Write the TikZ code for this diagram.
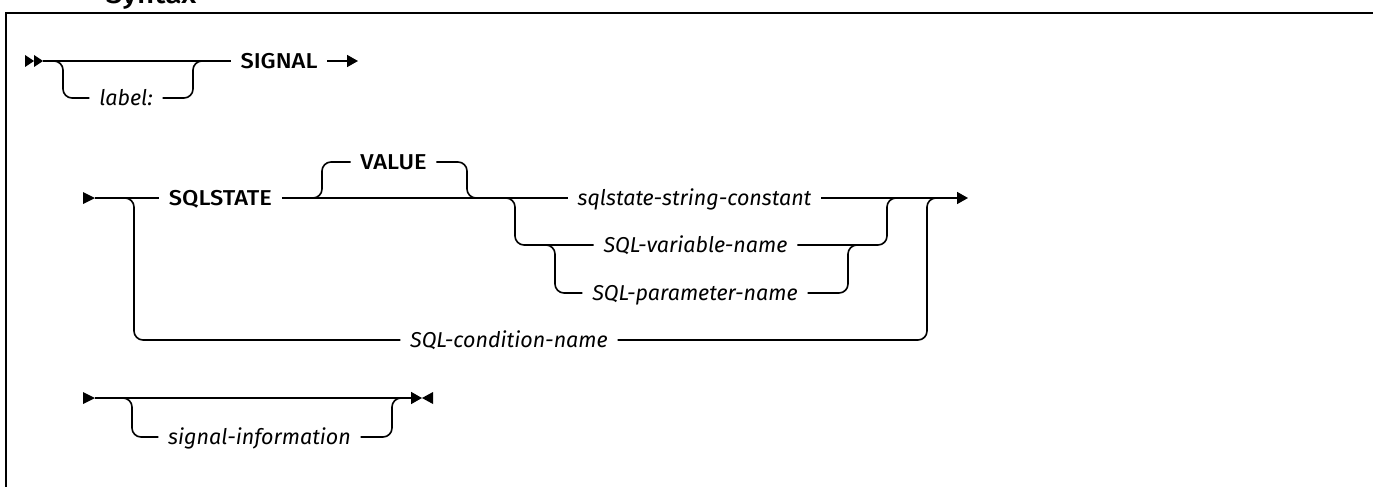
\documentclass[tikz,border=0pt]{standalone}
\usepackage{fontspec}
\setmainfont{Fira Sans}[BoldFont={Fira Sans Medium},BoldFeatures={FakeStretch=1.1}]
\usetikzlibrary{arrows.meta}
\begin{document}
\begin{tikzpicture}[x=1pt,y=-1pt,line width=1.6pt,
  txt/.style={text height=14pt,text depth=0pt,inner ysep=0pt,inner xsep=9pt,anchor=center},
  kw/.style={txt,font=\fontsize{21.5}{25}\selectfont\bfseries},
  var/.style={txt,font=\fontsize{21.5}{25}\selectfont\itshape},
  rail/.style={rounded corners=9pt},
  tip/.style={-{Triangle[length=11pt,width=12pt]}},
  flag/.style={fill=black,draw=none}]
\useasboundingbox (0,0) rectangle (1373,487);
% frame and title
\draw[line width=2pt] (6,500) -- (6,13) -- (1390,13);
\node[anchor=base west,inner sep=0pt,font=\fontsize{27}{30}\selectfont\bfseries] (ttl) at (105,4) {Syntax};
% ---------- row 1 ----------
\fill[flag] (25,55) -- (34,61) -- (25,67) -- cycle;
\fill[flag] (34,55) -- (43,61) -- (34,67) -- cycle;
\coordinate (s1) at (43,61);
\coordinate (e1) at (358,61);
\node[var] (lbl) at (126,98) {label:};
\node[kw] (sig) at (279,61) {SIGNAL};
\draw (s1) -- (sig);
\draw[rail] (53,61) -| (63,98) -- (lbl.west);
\draw[rail] (lbl.east) -| (193,61) -- (202,61);
\draw[tip] (sig.east) -- (e1);
% ---------- row 2 ----------
\fill[flag] (83,192) -- (95,198) -- (83,204) -- cycle;
\coordinate (s2) at (95,198);
\coordinate (e2) at (968,198);
\node[kw] (sqs) at (220.5,198) {SQLSTATE};
\node[kw] (val) at (393.5,162) {VALUE};
\node[var] (ssc) at (694.5,198) {sqlstate-string-constant};
\node[var] (svn) at (695.5,245) {SQL-variable-name};
\node[var] (spn) at (695,293) {SQL-parameter-name};
\node[var] (scn) at (509,340) {SQL-condition-name};
\draw (s2) -- (sqs);
\draw (sqs) -- (ssc);
\draw[tip] (ssc) -- (e2);
\draw[rail] (313,198) -| (322,162) -- (val.west);
\draw[rail] (val.east) -| (467,198) -- (476,198);
\draw[rail] (505,198) -| (515,245) -- (svn.west);
\draw[rail] (svn.east) -| (887,198) -- (896,198);
\draw[rail] (546,245) -| (555,293) -- (spn.west);
\draw[rail] (spn.east) -| (848,245) -- (857,245);
\draw[rail] (124,198) -| (134,340) -- (scn.west);
\draw[rail] (scn.east) -| (927,198) -- (937,198);
% ---------- row 3 ----------
\fill[flag] (83,392) -- (95,398) -- (83,404) -- cycle;
\coordinate (s3) at (95,398);
\coordinate (e3) at (422,398);
\node[var] (sgi) at (259.5,437) {signal-information};
\draw[tip] (s3) -- (e3);
\fill[flag] (433,392) -- (422,398) -- (433,404) -- cycle;
\draw[rail] (123,398) -| (132,437) -- (sgi.west);
\draw[rail] (sgi.east) -| (392,398) -- (401,398);
\end{tikzpicture}
\end{document}
